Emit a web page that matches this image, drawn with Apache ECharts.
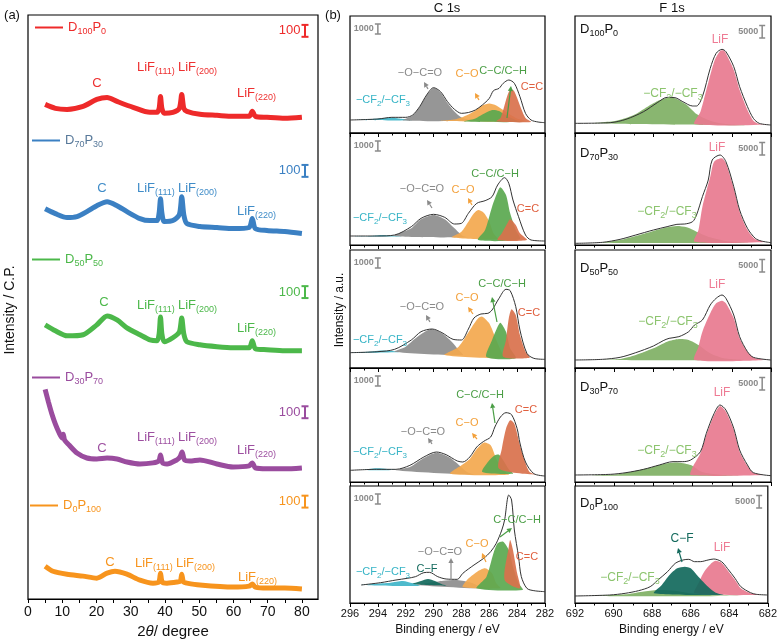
<!DOCTYPE html>
<html><head><meta charset="utf-8">
<script src="https://cdn.jsdelivr.net/npm/echarts@6/dist/echarts.min.js"></script>
<style>html,body{margin:0;padding:0;background:#fff}#c{width:780px;height:644px}</style>
</head><body><div id="c"></div><script>
const FONT = '"Liberation Sans", Arial, Helvetica, sans-serif';

// ---------------- XRD (panel a) ----------------
const xrdNames = ['D100P0','D70P30','D50P50','D30P70','D0P100'];
const xrdColors = ['#ee2a2a','#3b80c3','#4cb84a','#9a4c9e','#f7941d'];
const xrdLegendText = ['#ee2a2a','#58799a','#4cb84a','#9a4c9e','#f7941d'];
const xrdAnnoColors = ['#ee3030','#3f8cc8','#4cb84a','#9d4fa0','#f7941d'];
const xrdTickLabels = [0,10,20,30,40,50,60,70,80];
const xrdTickMarks = [0,5,10,15,20,25,30,35,40,45,50,55,60,65,70,75,80];

const xrd_D100P0 = [[5,4150],[8,4117],[11.4,4108],[16.1,4133],[20.1,4192],[23.1,4208],[26,4175],[30.7,4125],[35.6,4083],[37.7,4083],[38.3,4117],[38.7,4217],[39.1,4117],[39.8,4075],[42.3,4083],[44.2,4117],[44.9,4233],[45.5,4117],[46.4,4092],[50.2,4067],[55.2,4058],[59.9,4050],[64.6,4050],[65.5,4092],[66.4,4050],[69.8,4042],[75,4033],[80,4042]];
const xrd_D70P30 = [[5,3274],[8,3233],[11.4,3200],[14.3,3208],[17.2,3250],[20.1,3300],[23.1,3333],[26,3300],[28.9,3250],[32.7,3192],[35.6,3175],[37.7,3175],[38.3,3240],[38.7,3358],[39.1,3240],[39.8,3167],[42.3,3175],[44.2,3225],[44.9,3375],[45.5,3225],[46.4,3150],[50.2,3125],[55.2,3117],[59.9,3108],[64.6,3117],[65.5,3192],[66.4,3108],[69.8,3092],[75,3083],[80,3067]];
const xrd_D50P50 = [[5,2300],[8,2250],[11.4,2208],[16.1,2217],[20.1,2300],[23.1,2375],[26,2342],[28.9,2275],[32.7,2217],[35.6,2175],[37.7,2167],[38.3,2225],[38.7,2367],[39.1,2225],[39.8,2158],[42.3,2192],[44.2,2240],[44.9,2358],[45.5,2225],[46.4,2158],[50.2,2133],[55.2,2117],[59.9,2108],[64.6,2108],[65.5,2167],[66.4,2100],[69.8,2092],[75,2083],[80,2083]];
const xrd_D30P70 = [[5,1758],[6,1650],[7,1550],[8,1467],[9,1400],[10,1350],[10.3,1383],[10.7,1333],[12,1292],[14.3,1225],[17.2,1183],[20.1,1175],[23.1,1183],[26,1175],[28.9,1150],[32.7,1133],[36.5,1142],[38.2,1158],[38.7,1208],[39.3,1142],[40.6,1133],[43.5,1167],[44.4,1192],[45,1233],[45.7,1167],[47.3,1158],[50.2,1167],[55.2,1133],[59.9,1108],[64.6,1117],[65.5,1142],[66.4,1100],[69.8,1092],[75,1092],[80,1100]];
const xrd_D0P100 = [[5,275],[7.3,233],[11.4,208],[16.1,192],[20.1,175],[23.1,217],[25.4,233],[28.9,208],[32.7,158],[36.5,133],[38.2,142],[38.7,217],[39.2,142],[40.6,133],[43.5,142],[44.5,150],[44.9,208],[45.4,142],[46.4,133],[50.2,117],[59.9,100],[64.6,108],[65.5,125],[66.4,100],[69.8,92],[75,92],[80,83]];
const xrdData = [xrd_D100P0, xrd_D70P30, xrd_D50P50, xrd_D30P70, xrd_D0P100];
// scale bars: [x, low, high] (100 counts each)
const xrdScaleBars = [[80.9,4717,4817],[80.9,3542,3642],[80.9,2525,2625],[80.9,1517,1617],[80.9,767,867]];

// ---------------- XPS C 1s ----------------
const c1_env = [[296,1300],[294,1400],[293,1567],[292,1567],[291.5,1800],[291,2633],[290.5,3800],[290,4533],[289.5,4133],[289,3133],[288.5,2367],[288,1967],[287.5,2050],[287,2300],[286.5,2800],[286,3467],[285.7,4233],[285.3,4467],[285,4967],[284.6,5300],[284.2,4967],[283.8,3633],[283.4,1967],[283,1300],[282.5,1100],[282,1033]];
const c1_cf = [[295.5,1300],[294.5,1400],[293.5,1500],[293,1550],[292.5,1450],[291.5,1270]];
const c1_oco = [[292.2,1250],[291.5,1750],[291,2600],[290.5,3750],[290,4500],[289.5,4050],[289,3000],[288.5,2150],[288,1550],[287.3,1250]];
const c1_co = [[289.5,1200],[288.5,1350],[288,1550],[287.5,1850],[287,2250],[286.5,2750],[286,2950],[285.5,2750],[285,2300],[284.5,1850],[284,1450],[283.3,1150]];
const c1_cc = [[287.8,1150],[287,1450],[286.5,1850],[286,2200],[285.7,2300],[285.3,2200],[285,1950],[284.5,1550],[284,1250],[283.5,1100]];
const c1_c2 = [[285.5,1150],[285.2,1500],[285,2300],[284.8,3300],[284.6,4100],[284.4,4367],[284.2,4150],[284,3500],[283.7,2400],[283.4,1500],[283,1100]];

const c2_env = [[296,900],[294,900],[292.8,1000],[291.6,1833],[290.9,2667],[290,3067],[289.2,2767],[288.5,2100],[288,2167],[287.5,3167],[286.9,4167],[286.3,4433],[285.8,4833],[285.4,6000],[284.9,6733],[284.6,6167],[284.3,4500],[283.9,2833],[283.4,1000],[283,500],[282,400]];
const c2_cf = [[296,850],[294.5,900],[293.8,1000],[293,950],[292.3,850]];
const c2_oco = [[292.8,900],[291.6,1667],[290.9,2567],[290,3000],[289.2,2567],[288.5,1667],[287.9,900],[287.5,767]];
const c2_co = [[288.7,767],[288,1333],[287.5,2333],[287.1,3167],[286.8,3500],[286.4,3233],[286,2333],[285.7,1167],[285.4,567]];
const c2_cc = [[286.8,500],[286.3,1500],[285.8,3833],[285.4,5333],[285.2,5767],[284.8,5000],[284.5,3167],[284.1,1500],[283.8,567]];
const c2_c2 = [[285.4,500],[285.1,1167],[284.7,2167],[284.5,2567],[284.1,2000],[283.8,1167],[283.3,500]];

const c3_env = [[296,1533],[294,1633],[292.8,1867],[291.6,2800],[290.9,3633],[290.1,3900],[289.4,3533],[288.6,2867],[288,2800],[287.5,3900],[287.1,5000],[286.6,5400],[286.1,5467],[285.8,5800],[285.3,6967],[284.8,7867],[284.5,7733],[284.1,6133],[283.8,3800],[283.3,1467],[282.8,967],[282,867]];
const c3_cf = [[296,1500],[294.5,1650],[293.8,1750],[293,1700],[292.3,1600]];
const c3_oco = [[292.8,1633],[292,2133],[291.2,3067],[290.2,3900],[289.4,3467],[288.7,2633],[288.2,1800],[287.9,1300]];
const c3_co = [[289.2,1300],[288.2,2133],[287.4,3767],[286.8,4967],[286.5,5133],[286,4467],[285.5,2800],[285,1300],[284.7,967]];
const c3_cc = [[286.2,1100],[285.8,2800],[285.4,4133],[285.2,4533],[284.8,3633],[284.5,1967],[284.1,967]];
const c3_c2 = [[285,1133],[284.8,2800],[284.6,4967],[284.4,5867],[284.1,5300],[283.8,3300],[283.4,1633],[283.1,1033]];

const c4_env = [[296,1167],[294.1,1267],[292.7,1267],[291.7,1667],[290.7,2500],[289.8,3000],[289.1,2733],[288.3,2100],[287.9,2000],[287.4,2500],[286.9,3500],[286.4,4067],[285.9,4500],[285.6,5500],[285.2,6500],[284.8,6933],[284.4,6733],[284,5333],[283.8,3900],[283.4,2000],[282.8,833],[282,600]];
const c4_cf = [[295,1200],[294.1,1367],[293.3,1300],[292.7,1200]];
const c4_oco = [[292.7,1167],[291.7,1500],[290.7,2400],[289.8,2933],[288.9,2500],[288.2,1733],[287.6,1000],[287.1,733]];
const c4_co = [[288.8,833],[288,1667],[287.4,2300],[286.9,3300],[286.4,3933],[285.9,3667],[285.5,2333],[285,1167],[284.6,733]];
const c4_cc = [[286.5,1000],[286.1,2000],[285.6,2667],[285.3,2733],[285,2167],[284.6,1267],[284.3,833]];
const c4_c2 = [[285.3,1333],[285.1,3333],[284.8,5333],[284.5,6167],[284.2,5833],[283.8,3700],[283.4,1900],[283.1,1000],[282.7,733]];

const c5_env = [[295.2,1800],[293.8,2033],[292.7,2300],[291.9,2467],[291.3,2633],[290.7,3033],[290.3,3067],[289.7,2633],[289.1,2400],[288.3,2367],[287.9,2967],[287.1,3800],[286.4,4467],[285.9,5133],[285.5,5967],[285.1,7300],[284.9,8300],[284.6,10800],[284.4,10300],[284.2,7300],[283.9,4633],[283.7,2633],[283.3,1467],[282.8,1233],[282,1133]];
const c5_cf = [[295.2,1800],[293.1,2033],[292.2,2200],[291.5,1967],[291,1700]];
const c5_oco = [[291.2,1800],[290.3,2033],[289.3,2233],[288.3,2300],[287.3,2033],[286.6,1633],[285.9,1400]];
const c5_cfb = [[291.5,1900],[290.9,2200],[290.4,2400],[289.9,2200],[289.4,1867],[289.1,1733]];
const c5_co = [[287.9,1600],[287.6,2300],[286.9,3100],[286.3,3467],[285.8,2967],[285.5,1967],[285.2,1467]];
const c5_cc = [[286.9,1467],[286.2,2633],[285.7,4967],[285.4,5967],[285,6133],[284.6,5300],[284.3,3633],[283.9,1967],[283.6,1300]];
const c5_c2 = [[284.9,2300],[284.6,5633],[284.5,6300],[284.3,5300],[284,2967],[283.8,1467]];

// ---------------- XPS F 1s ----------------
const f1_env = [[692,3867],[690.2,4133],[689.4,5467],[688.5,8533],[687.8,12133],[687.3,14267],[686.9,14133],[686.5,12533],[686,10800],[685.8,10800],[685.5,14533],[685.1,25867],[684.8,31867],[684.5,33467],[684.3,32533],[683.9,26533],[683.6,18533],[683.2,10533],[682.9,5867],[682.6,3867],[682,3200]];
const f1_cf = [[691.1,3867],[689.9,4933],[689,7200],[688.3,10533],[687.7,13067],[687.3,14000],[686.9,13867],[686.3,11200],[685.8,7600],[685.1,4933],[684.3,3600],[683.2,3067]];
const f1_lif = [[685.9,3600],[685.6,8533],[685.3,17200],[684.9,28533],[684.6,32800],[684.4,33000],[684.3,31867],[683.9,25200],[683.6,17200],[683.2,9200],[682.9,4933],[682.6,3600],[682.2,3333]];

const f2_env = [[692,667],[690.6,1067],[689.7,2267],[688.9,4000],[688,6000],[687.3,7333],[686.8,8267],[686.4,8400],[686,9333],[685.8,12000],[685.5,19333],[685.2,26000],[685,34000],[684.6,36000],[684.3,33333],[683.9,23333],[683.6,14000],[683.2,6667],[682.8,2667],[682.5,1600],[682,933]];
const f2_cf = [[690.6,933],[689.7,2000],[688.9,3600],[688,5600],[687.3,7067],[686.8,7600],[686.3,7067],[685.8,5333],[685.1,3067],[684.3,1600],[683.2,933]];
const f2_lif = [[685.9,1333],[685.7,6000],[685.5,15333],[685.1,27333],[684.9,33333],[684.5,34667],[684.3,32667],[683.9,22667],[683.6,13333],[683.2,6000],[682.8,2267],[682.3,1200]];

const f3_env = [[692,3200],[690.6,3467],[689.7,4267],[688.9,6133],[688,8800],[687.5,10933],[687.2,11867],[686.7,12533],[686.2,14533],[685.9,17200],[685.5,19200],[685.1,25200],[684.8,27867],[684.5,29200],[684.3,27867],[683.9,21200],[683.6,12533],[683.2,6533],[682.9,4267],[682,3200]];
const f3_cf = [[690.6,3200],[689.7,3600],[688.9,5200],[688,7867],[687.3,10533],[686.7,11600],[686.2,11200],[685.7,9200],[685.1,5867],[684.4,3867],[683.4,3200]];
const f3_lif = [[685.9,3200],[685.7,8533],[685.5,14533],[685.1,21867],[684.8,25867],[684.5,26933],[684.3,25867],[683.9,19867],[683.6,11867],[683.2,6400],[682.8,3867],[682.2,3200]];

const f4_env = [[692,2800],[690.2,3067],[689.4,3733],[688.5,5067],[687.7,6800],[687,8133],[686.5,8133],[686.1,8800],[685.6,12133],[685.3,19467],[684.9,27467],[684.6,30800],[684.3,28800],[683.9,21467],[683.6,12800],[683.2,6800],[682.9,3733],[682,2533]];
const f4_cf = [[691.1,2533],[689.9,3067],[688.9,4533],[688,6133],[687.3,7467],[686.7,7733],[686.1,6800],[685.5,4000],[684.6,2933],[683.6,2533]];
const f4_lif = [[686.1,2800],[686,5867],[685.6,11467],[685.3,18800],[684.9,26800],[684.6,30400],[684.3,28133],[683.9,20800],[683.6,12133],[683.2,6400],[682.9,3733],[682.4,2800]];

const f5_env = [[692,2800],[690.2,3200],[689.4,3867],[688.7,4933],[688.1,6533],[687.7,9200],[687.2,12533],[686.8,15867],[686.4,17200],[686.1,17467],[685.8,16533],[685.5,16533],[685.1,17200],[684.8,17600],[684.4,16533],[684.1,13867],[683.7,9867],[683.4,6533],[682.9,4133],[682.6,3467],[682,3200]];
const f5_cf = [[691.1,2800],[689.4,3467],[688.5,4533],[687.7,5200],[686.8,4933],[686,3867],[685.1,3200],[683.4,2800]];
const f5_lif = [[685.8,3867],[685.6,7867],[685.3,12533],[684.9,16133],[684.7,16933],[684.4,16133],[684.1,13200],[683.7,9200],[683.4,5867],[682.9,3867],[682.4,3200]];
const f5_cfb = [[687.9,3867],[687.5,7200],[687.1,11200],[686.7,13867],[686.3,14533],[686,13867],[685.6,10533],[685.1,6533],[684.7,4133],[684.3,3200]];

const beTicksC = [296,294,292,290,288,286,284,282];
const beTicksF = [692,690,688,686,684,682];

// ---------------- layout / styles ----------------
const ROW_TOP = [16,133,250,368,486];
const ROW_BOT = [133,245,368,482,603];
const FILL = {cf:'#3fb4c8', oco:'#8d8d8d', co:'#f3a84e', cc:'#5aa84f', c2:'#d9714c', cfb:'#12695c', fcf:'#7fb064', lif:'#e8798f'};
const LBL = {cf:'#36b4c6', oco:'#8a8a8a', co:'#f3a03a', cc:'#4a9e45', c2:'#e0603f', cfb:'#12695c', fcf:'#8cc46e', lif:'#ee7a93'};

const cPanels = [
  {env:c1_env, comps:[['cf',c1_cf],['oco',c1_oco],['co',c1_co],['cc',c1_cc],['c2',c1_c2]]},
  {env:c2_env, comps:[['cf',c2_cf],['oco',c2_oco],['co',c2_co],['cc',c2_cc],['c2',c2_c2]]},
  {env:c3_env, comps:[['cf',c3_cf],['oco',c3_oco],['co',c3_co],['cc',c3_cc],['c2',c3_c2]]},
  {env:c4_env, comps:[['cf',c4_cf],['oco',c4_oco],['co',c4_co],['cc',c4_cc],['c2',c4_c2]]},
  {env:c5_env, comps:[['cf',c5_cf],['oco',c5_oco],['cfb',c5_cfb],['co',c5_co],['cc',c5_cc],['c2',c5_c2]]}
];
const fPanels = [
  {env:f1_env, comps:[['fcf',f1_cf],['lif',f1_lif]]},
  {env:f2_env, comps:[['fcf',f2_cf],['lif',f2_lif]]},
  {env:f3_env, comps:[['fcf',f3_cf],['lif',f3_lif]]},
  {env:f4_env, comps:[['fcf',f4_cf],['lif',f4_lif]]},
  {env:f5_env, comps:[['fcf',f5_cf],['lif',f5_lif],['cfb',f5_cfb]]}
];

function subText(nm){ // D100P0 -> rich
  const m = nm.match(/^D(\d+)P(\d+)$/);
  return '{n|D}{s|'+m[1]+'}{n|P}{s|'+m[2]+'}';
}
function R(size,color){
  return {
    n:{fontSize:size,fontFamily:FONT,fill:color,color:color,lineHeight:size+5},
    s:{fontSize:Math.round(size*0.72),fontFamily:FONT,fill:color,color:color,verticalAlign:'bottom'},
    i:{fontSize:size,fontFamily:FONT,fontStyle:'italic',fill:color,color:color,lineHeight:size+5}
  };
}
function T(x,y,text,color,size,align){
  return {type:'text', x:x, y:y, silent:true, z:100,
    style:{text:text, fill:color, align:align||'center', verticalAlign:'middle', fontSize:size, fontFamily:FONT, rich:R(size,color)}};
}
function arrow(x1,y1,x2,y2,color){
  const dx=x2-x1, dy=y2-y1, L=Math.sqrt(dx*dx+dy*dy), ux=dx/L, uy=dy/L, nx=-uy, ny=ux;
  const bx=x2-ux*5, by=y2-uy*5;
  return [
    {type:'line', silent:true, z:99, shape:{x1:x1,y1:y1,x2:bx,y2:by}, style:{stroke:color,lineWidth:1.2}},
    {type:'polygon', silent:true, z:99, shape:{points:[[x2,y2],[bx+nx*2.6,by+ny*2.6],[bx-nx*2.6,by-ny*2.6]]}, style:{fill:color}}
  ];
}

const grids = [], xAxes = [], yAxes = [], series = [], legends = [], graphics = [];

// XRD grid
grids.push({left:28, top:15, width:290, height:588, show:true, borderColor:'#000', borderWidth:1.2, backgroundColor:'transparent'});
xAxes.push({gridIndex:0, type:'value', min:0, max:84.7, interval:10,
  axisLine:{show:true, lineStyle:{color:'#000', width:1.2}},
  axisTick:{show:true, inside:false, length:4, customValues:xrdTickMarks, lineStyle:{color:'#000'}},
  axisLabel:{show:true, customValues:xrdTickLabels, fontSize:14, color:'#111', fontFamily:FONT, margin:6},
  splitLine:{show:false},
  name:'{n|2}{i|θ}{n|/ degree}', nameLocation:'middle', nameGap:25,
  nameTextStyle:{fontSize:15, color:'#111', fontFamily:FONT, rich:{n:{fontSize:15,fontFamily:FONT,color:'#111'}, i:{fontSize:15,fontFamily:FONT,fontStyle:'italic',color:'#111'}}}
});
yAxes.push({gridIndex:0, type:'value', min:0, max:4900, show:false});
xrdNames.forEach((nm,i)=>{
  series.push({name:nm, type:'line', xAxisIndex:0, yAxisIndex:0, data:xrdData[i], symbol:'none', showSymbol:false,
    smooth:0.25, lineStyle:{color:xrdColors[i], width:5}, itemStyle:{color:xrdColors[i]}, z:3, animation:false});
});
const legendLeft = [35,32,32,32,30];
const legendLineY = [30,143,262,380,508];
xrdNames.forEach((nm,i)=>{
  legends.push({data:[nm], left:legendLeft[i], top:legendLineY[i]-9, padding:0, itemWidth:28, itemHeight:2, icon:'rect',
    selectedMode:false, formatter:subText,
    textStyle:{color:xrdLegendText[i], fontSize:13, fontFamily:FONT, rich:R(13, xrdLegendText[i])}});
});
// scale bars
function scaleBar(gi, bar, label, color, fontSize, lw, capW){
  return {type:'custom', xAxisIndex:gi, yAxisIndex:gi, data:[bar], encode:{x:0,y:[1,2]}, silent:true, z:20, animation:false,
    renderItem:(params, api)=>{
      const p0 = api.coord([api.value(0), api.value(1)]);
      const p1 = api.coord([api.value(0), api.value(2)]);
      const x = p0[0];
      return {type:'group', children:[
        {type:'line', shape:{x1:x,y1:p0[1],x2:x,y2:p1[1]}, style:{stroke:color,lineWidth:lw}},
        {type:'line', shape:{x1:x-capW,y1:p0[1],x2:x+capW,y2:p0[1]}, style:{stroke:color,lineWidth:lw}},
        {type:'line', shape:{x1:x-capW,y1:p1[1],x2:x+capW,y2:p1[1]}, style:{stroke:color,lineWidth:lw}},
        {type:'text', x:x-capW-1, y:(p0[1]+p1[1])/2, style:{text:label, align:'right', verticalAlign:'middle', fill:color, fontSize:fontSize, fontFamily:FONT, fontWeight:fontSize<12?'bold':'normal'}}
      ]};
    }};
}
xrdScaleBars.forEach((b,i)=>series.push(scaleBar(0, b, '100', xrdColors[i], 13, 2, 3.5)));

// XRD annotations
const xrdAnno = [
  {c:[97,83], a:[137,67], b:[178,67], d:[237,93]},
  {c:[102,188], a:[137,188], b:[178,188], d:[237,211]},
  {c:[104,302], a:[137,305], b:[178,305], d:[237,328]},
  {c:[102,448], a:[137,437], b:[178,437], d:[237,450]},
  {c:[110,562], a:[135,563], b:[176,563], d:[238,577]}
];
xrdAnno.forEach((p,i)=>{
  const col = xrdAnnoColors[i];
  graphics.push(T(p.c[0],p.c[1],'{n|C}',col,13,'center'));
  graphics.push(T(p.a[0],p.a[1],'{n|LiF}{s|(111)}',col,13,'left'));
  graphics.push(T(p.b[0],p.b[1],'{n|LiF}{s|(200)}',col,13,'left'));
  graphics.push(T(p.d[0],p.d[1],'{n|LiF}{s|(220)}',col,13,'left'));
});

// polygons
function poly(gi, pts, color){
  return {type:'custom', xAxisIndex:gi, yAxisIndex:gi, data:pts, encode:{x:0,y:1}, silent:true, z:2, animation:false,
    renderItem:(params, api)=>{
      if (params.dataIndex !== 0) return null;
      return {type:'polygon', shape:{points:pts.map(p=>api.coord(p)), smooth:0.25}, style:{fill:color, opacity:0.92}};
    }};
}

// C 1s grids (1..5), F 1s grids (6..10)
function addPanel(gi, left, width, top, bot, xmin, xmax, ticks, scale, panel, isLast, nameTxt){
  grids.push({left:left, top:top, width:width, height:bot-top, show:true, borderColor:'#000', borderWidth:1.2, backgroundColor:'transparent'});
  xAxes.push({gridIndex:gi, type:'value', min:xmin, max:xmax, inverse:true, interval:2,
    axisLine:{show:true, lineStyle:{color:'#000', width:1.2}},
    axisTick:{show:true, inside:false, length:4, lineStyle:{color:'#000'}},
    minorTick:{show:true, splitNumber:2, length:2.5, lineStyle:{color:'#000'}},
    axisLabel:{show:isLast, customValues:ticks, fontSize:11, color:'#111', fontFamily:FONT, margin:5},
    splitLine:{show:false},
    name: isLast ? nameTxt : '', nameLocation:'middle', nameGap:21,
    nameTextStyle:{fontSize:12, color:'#111', fontFamily:FONT}
  });
  yAxes.push({gridIndex:gi, type:'value', min:0, max:(bot-top)*scale, show:false});
  panel.comps.forEach(c=>series.push(poly(gi, c[1], FILL[c[0]])));
  series.push({type:'line', xAxisIndex:gi, yAxisIndex:gi, data:panel.env, symbol:'none', showSymbol:false, smooth:0.3,
    lineStyle:{color:'#333', width:1}, z:5, animation:false, silent:true});
}
for (let k=0;k<5;k++){
  addPanel(1+k, 350, 195, ROW_TOP[k], ROW_BOT[k], 282, 296, beTicksC, 100, cPanels[k], k===4, 'Binding energy / eV');
}
for (let k=0;k<5;k++){
  addPanel(6+k, 575, 196, ROW_TOP[k], ROW_BOT[k], 682, 692, beTicksF, 400, fPanels[k], k===4, 'Binding energy / eV');
}
// XPS scale bars
for (let k=0;k<5;k++){
  const h = (ROW_BOT[k]-ROW_TOP[k]);
  series.push(scaleBar(1+k, [294.0, (h-18)*100, (h-8)*100], '1000', '#8a8a8a', 9, 1.5, 3));
  series.push(scaleBar(6+k, [682.45, (h-22)*400, (h-9.5)*400], '5000', '#8a8a8a', 9, 1.5, 3));
}

// C 1s labels
const CF_TXT = '{n|−CF}{s|2}{n|/−CF}{s|3}';
const cLabelPos = [
  {oco:[420,73], co:[467,74], cc:[503,71], c2:[532,87], cf:[383,100]},
  {oco:[422,189], co:[463,190], cc:[495,174], c2:[528,209], cf:[380,218]},
  {oco:[422,307], co:[467,298], cc:[502,284], c2:[529,313], cf:[380,340]},
  {oco:[423,432], co:[467,423], cc:[480,395], c2:[526,410], cf:[380,452]},
  {oco:[440,552], co:[477,544], cc:[517,520], c2:[527,557], cf:[383,572], cfb:[427,569]}
];
const cLabelTxt = {oco:'{n|−O−C=O}', co:'{n|C−O}', cc:'{n|C−C/C−H}', c2:'{n|C=C}', cf:CF_TXT, cfb:'{n|C−F}'};
cLabelPos.forEach(p=>{
  Object.keys(p).forEach(k=>graphics.push(T(p[k][0],p[k][1],cLabelTxt[k],LBL[k],11,'center')));
});
const cArrows = [
  [['oco',428,89,424,82],['co',479,100,475,93],['cc',507,118,511,86]],
  [['oco',432,208,427,200],['co',472,205,468,198]],
  [['oco',430,322,426,315],['co',473,314,468,307],['cc',497,322,492,297]],
  [['oco',432,444,428,438],['co',477,439,472,433],['cc',495,423,492,403]],
  [['oco',451,580,451,558],['co',486,562,482,553],['cc',500,537,512,528]]
];
cArrows.forEach(list=>list.forEach(a=>arrow(a[1],a[2],a[3],a[4],LBL[a[0]]).forEach(g=>graphics.push(g))));

// F 1s labels
const fSamplePos = [[580,29],[580,153],[580,268],[580,387],[580,503]];
const fLabelPos = [
  {lif:[720,40], fcf:[673,94]},
  {lif:[717,148], fcf:[667,212]},
  {lif:[717,285], fcf:[668,322]},
  {lif:[722,393], fcf:[667,451]},
  {lif:[722,548], fcf:[630,578], cfb:[682,539]}
];
const fLabelTxt = {lif:'{n|LiF}', fcf:CF_TXT, cfb:'{n|C−F}'};
fSamplePos.forEach((p,i)=>graphics.push(T(p[0],p[1],subText(xrdNames[i]),'#111',13,'left')));
fLabelPos.forEach(p=>Object.keys(p).forEach(k=>graphics.push(T(p[k][0],p[k][1],fLabelTxt[k],LBL[k],12,'center'))));
arrow(682,562,678,548,LBL.cfb).forEach(g=>graphics.push(g));

// titles and axis names
graphics.push(T(12,15,'{n|(a)}','#111',13,'center'));
graphics.push(T(333,15,'{n|(b)}','#111',13,'center'));
graphics.push(T(447,8,'{n|C 1s}','#111',13,'center'));
graphics.push(T(672,8,'{n|F 1s}','#111',13,'center'));
graphics.push({type:'text', x:10, y:310, rotation:Math.PI/2, silent:true,
  style:{text:'Intensity / C.P.', fill:'#111', fontSize:14, fontFamily:FONT, align:'center', verticalAlign:'middle'}});
graphics.push({type:'text', x:340, y:310, rotation:Math.PI/2, silent:true,
  style:{text:'Intensity / a.u.', fill:'#111', fontSize:12, fontFamily:FONT, align:'center', verticalAlign:'middle'}});

const chart = echarts.init(document.getElementById('c'), null, {renderer:'canvas', width:780, height:644});
chart.setOption({
  backgroundColor:'#fff',
  animation:false,
  grid:grids, xAxis:xAxes, yAxis:yAxes, legend:legends, series:series, graphic:graphics
});
</script></body></html>
